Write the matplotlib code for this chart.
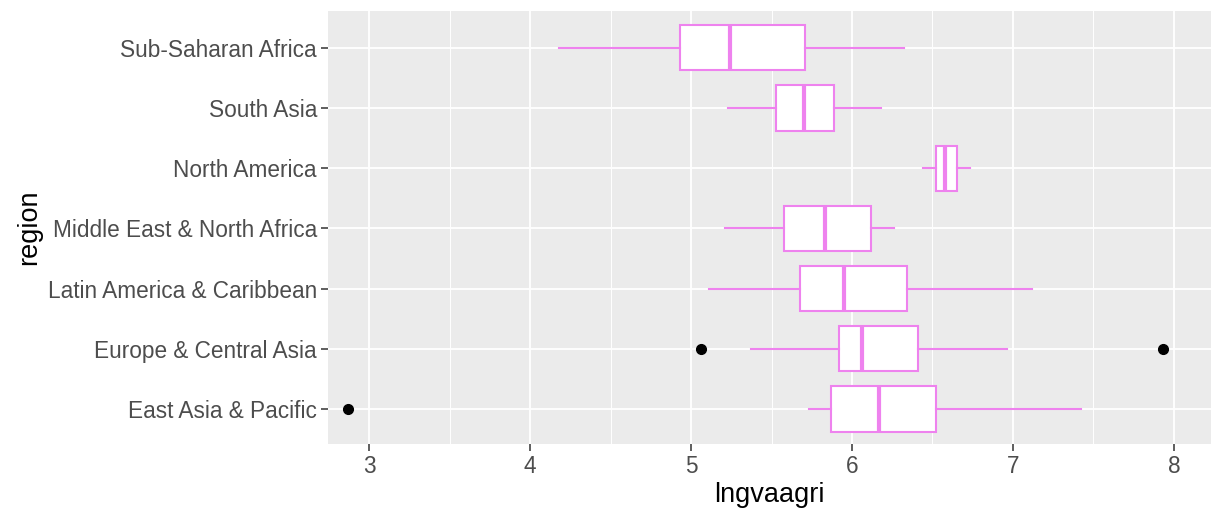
import matplotlib.pyplot as plt
from matplotlib.ticker import MultipleLocator

plt.rcParams['font.family'] = ['Liberation Sans', 'DejaVu Sans']

# regions, bottom to top as drawn
regions = ["East Asia & Pacific", "Europe & Central Asia", "Latin America & Caribbean",
           "Middle East & North Africa", "North America", "South Asia", "Sub-Saharan Africa"]

# box statistics (lngvaagri)
whislo = [5.73, 5.37, 5.11, 5.21, 6.44, 5.23, 4.18]
q1 = [5.87, 5.92, 5.68, 5.58, 6.52, 5.53, 4.93]
med = [6.17, 6.06, 5.95, 5.83, 6.58, 5.70, 5.24]
q3 = [6.52, 6.41, 6.34, 6.12, 6.65, 5.89, 5.71]
whishi = [7.42, 6.96, 7.12, 6.26, 6.73, 6.18, 6.32]
outliers = [[2.87], [5.06, 7.93], [], [], [], [], []]

stats = []
for i in range(len(regions)):
    stats.append({"label": regions[i], "whislo": whislo[i], "q1": q1[i], "med": med[i],
                  "q3": q3[i], "whishi": whishi[i], "fliers": outliers[i]})

col = "#EE82EE"

fig = plt.figure(figsize=(12.11, 5.13), dpi=100)
ax = fig.add_axes([328 / 1211, 1 - 444 / 513, 883 / 1211, 433 / 513])
ax.set_facecolor("#EBEBEB")
ax.set_axisbelow(True)

ax.bxp(stats, orientation="horizontal", widths=0.75, patch_artist=True, showcaps=False,
       boxprops=dict(facecolor="white", edgecolor=col, linewidth=1.5),
       medianprops=dict(color=col, linewidth=3),
       whiskerprops=dict(color=col, linewidth=1.5),
       flierprops=dict(marker="o", markerfacecolor="black", markeredgecolor="black",
                       markersize=7))

ax.set_xlim(2.745, 8.23)
ax.set_ylim(0.42, 7.61)
ax.xaxis.set_major_locator(MultipleLocator(1))
ax.xaxis.set_minor_locator(MultipleLocator(0.5))
ax.grid(which="major", color="white", linewidth=1.3)
ax.grid(which="minor", axis="x", color="white", linewidth=0.7)
ax.tick_params(which="minor", length=0)

for s in ax.spines.values():
    s.set_visible(False)

ax.tick_params(which="major", color="#333333", length=5, width=1.1, labelsize=16.3,
               labelcolor="#4D4D4D", pad=3)
ax.set_xlabel("lngvaagri", fontsize=19.5, color="black", labelpad=3)
ax.set_ylabel("region", fontsize=19.5, color="black", labelpad=4)

fig.savefig("out.png", dpi=100)
